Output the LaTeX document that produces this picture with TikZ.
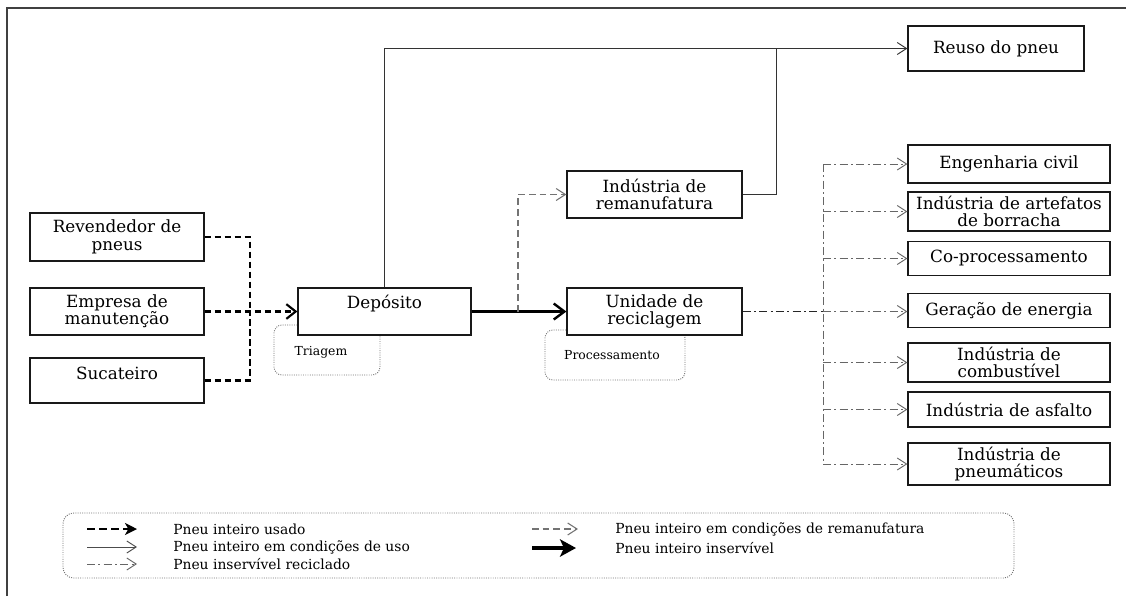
\documentclass[tikz,border=0pt]{standalone}
\usepackage{fontspec}
\setmainfont{DejaVu Serif}
\usetikzlibrary{arrows.meta,calc}
\newcommand\boxfont{\fontsize{12.6}{13}\selectfont}
\newcommand\legfont{\fontsize{10.4}{12}\selectfont}
\newcommand\smallfnt{\fontsize{9.3}{10}\selectfont}
\begin{document}
\begin{tikzpicture}[x=0.75pt,y=-0.75pt,
  box/.style={draw=black!90, line width=0.9pt, fill=white, inner sep=1pt, align=center, font=\boxfont},
  wh/.style 2 args={minimum width=#1*0.75pt, minimum height=#2*0.75pt},
  rbox/.style={draw=black!55, densely dotted, line width=0.7pt, rounded corners=6pt, font=\smallfnt, inner sep=0pt},
  legbox/.style={draw=black!55, densely dotted, line width=0.7pt, rounded corners=8pt, inner sep=0pt},
  legtxt/.style={anchor=west, inner sep=0pt, font=\legfont},
  frame/.style={draw=black!75, line width=1pt},
  openarr/.style={-{Straight Barb[length=7pt,width=9pt]}},
  usedd/.style={line width=1.6pt, black, dash pattern=on 5pt off 2.5pt},
  usedarr/.style={usedd, -{Straight Barb[length=7pt,width=11pt]}},
  reuse/.style={line width=0.7pt, black!80},
  remdd/.style={line width=0.8pt, black!55, dash pattern=on 5pt off 3pt},
  recdd/.style={line width=0.7pt, black!60, dash pattern=on 6pt off 2.5pt on 1.5pt off 2.5pt},
  recmain/.style={line width=1.3pt, black!85, dash pattern=on 6pt off 2.5pt on 1.5pt off 2.5pt},
  thickarr/.style={line width=1.8pt, black, -{Straight Barb[length=8pt,width=12pt]}},
  legused/.style={line width=2pt, black, dash pattern=on 6pt off 3pt, -{Stealth[length=9pt,width=9pt,inset=2.5pt]}},
  legthick/.style={line width=3pt, black, -{Stealth[length=12pt,width=13pt,inset=3pt]}}
]
\useasboundingbox (0,0) rectangle (1126,596);

% frame
\coordinate (f1) at (7,596);
\coordinate (f2) at (7,8);
\coordinate (f3) at (1126,8);
\draw[frame] (f1) -- (f2) -- (f3);

% rounded sub-boxes (behind)
\node[rbox, wh={106}{50}] (tri) at (327,350) {};
\node[font=\smallfnt, inner sep=0pt] (tritxt) at (321,352) {Triagem};
\node[rbox, wh={140}{50}] (proc) at (615,355) {};
\node[font=\smallfnt, inner sep=0pt] (proctxt) at (612,355) {Processamento};

% left boxes
\node[box, wh={174}{48}] (rev) at (117,237) {Revendedor de\\pneus};
\node[box, wh={174}{47}] (emp) at (117,311.5) {Empresa de\\manutenção};
\node[box, wh={174}{45}, label={[font=\boxfont, inner sep=0pt, yshift=5.5pt]center:Sucateiro}] (suc) at (117,380.5) {};

% middle boxes
\node[box, wh={173}{47}, label={[font=\boxfont, inner sep=0pt, yshift=6pt]center:Depósito}] (dep) at (384.5,311.5) {};
\node[box, wh={175}{47}] (uni) at (654.5,311.5) {Unidade de\\reciclagem};
\node[box, wh={175}{47}] (rem) at (654.5,194.5) {Indústria de\\remanufatura};
\node[box, wh={176}{45}] (reu) at (996,48.5) {Reuso do pneu};

% right boxes
\node[box, wh={202}{38}] (eng) at (1009,164) {Engenharia civil};
\node[box, wh={202}{39}] (art) at (1009,211.5) {Indústria de artefatos\\de borracha};
\node[box, wh={202}{34}] (cop) at (1009,258.5) {Co-processamento};
\node[box, wh={202}{34}] (ger) at (1009,310.5) {Geração de energia};
\node[box, wh={202}{39}] (com) at (1009,362.5) {Indústria de\\combustível};
\node[box, wh={202}{35}] (asf) at (1009,409.5) {Indústria de asfalto};
\node[box, wh={202}{42}] (pne) at (1009,464) {Indústria de\\pneumáticos};

% connectors: used tyres
\coordinate (jl) at (250,311.5);
\draw[usedd] (rev.east) -| (jl);
\draw[usedd] (suc.east) -| (jl);
\draw[usedarr] (emp.east) -- (dep.west);

% reuse
\coordinate (jr) at (776,48.5);
\draw[reuse, openarr] (dep.north) |- (reu.west);
\draw[reuse] (rem.east) -| (jr);

% unserviceable + remanufacture
\coordinate (jd) at (518,311.5);
\draw[thickarr] (dep.east) -- (uni.west);
\draw[remdd, openarr] (jd) |- (rem.west);

% recycled
\coordinate (jt) at (823,311.5);
\draw[recmain] (uni.east) -- (jt);
\draw[recdd] (jt |- eng.west) -- (jt |- pne.west);
\draw[recdd, openarr] (jt |- eng.west) -- (eng.west);
\draw[recdd, openarr] (jt |- art.west) -- (art.west);
\draw[recdd, openarr] (jt |- cop.west) -- (cop.west);
\draw[recdd, openarr] (jt) -- (jt -| ger.west);
\draw[recdd, openarr] (jt |- com.west) -- (com.west);
\draw[recdd, openarr] (jt |- asf.west) -- (asf.west);
\draw[recdd, openarr] (jt |- pne.west) -- (pne.west);

% legend
\node[legbox, wh={951}{65}] (leg) at (538.5,545.5) {};
\coordinate (a1s) at (87,529);  \coordinate (a1e) at (137,529);
\coordinate (a2s) at (87,547);  \coordinate (a2e) at (137,547);
\coordinate (a3s) at (87,564);  \coordinate (a3e) at (137,564);
\coordinate (a4s) at (532,529); \coordinate (a4e) at (578,529);
\coordinate (a5s) at (532,548); \coordinate (a5e) at (576,548);
\draw[legused] (a1s) -- (a1e);
\draw[reuse, black!70, openarr] (a2s) -- (a2e);
\draw[recdd, openarr] (a3s) -- (a3e);
\draw[remdd, openarr] (a4s) -- (a4e);
\draw[legthick] (a5s) -- (a5e);
\node[legtxt] (t1) at (173,529) {Pneu inteiro usado};
\node[legtxt] (t2) at (173,547) {Pneu inteiro em condições de uso};
\node[legtxt] (t3) at (173,564) {Pneu inservível reciclado};
\node[legtxt] (t4) at (615,529) {Pneu inteiro em condições de remanufatura};
\node[legtxt] (t5) at (615,548) {Pneu inteiro inservível};
\end{tikzpicture}
\end{document}
